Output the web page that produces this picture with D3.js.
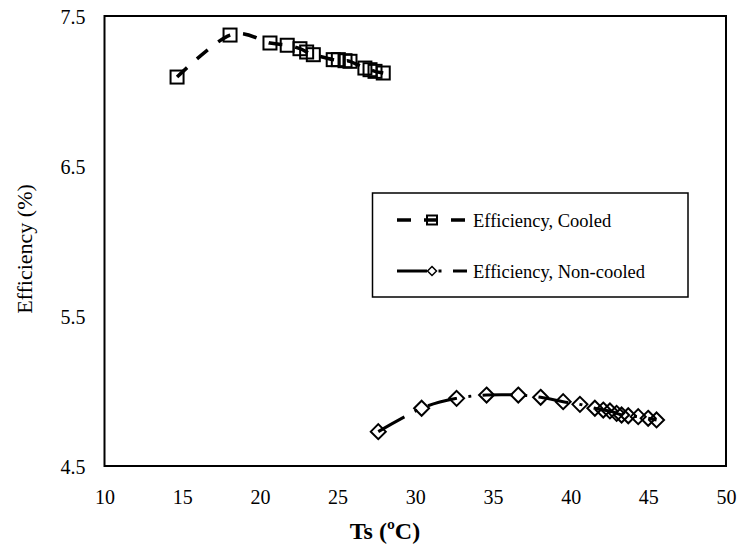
<!DOCTYPE html>
<html>
<head>
<meta charset="utf-8">
<script src="https://cdn.jsdelivr.net/npm/d3@7"></script>
<style>
  html, body { margin: 0; padding: 0; background: #fff; }
  svg { display: block; }
</style>
</head>
<body>
<svg id="chart" width="741" height="551"></svg>
<script>
// ---- data ----
const cooledT = [14.67, 18.08, 20.65, 21.76, 22.58, 23.01, 23.44, 24.72, 25.05, 25.48, 25.80, 26.76, 27.09, 27.41, 27.94];
const cooledE = [7.093, 7.373, 7.320, 7.305, 7.282, 7.260, 7.242, 7.209, 7.209, 7.202, 7.198, 7.153, 7.142, 7.131, 7.120];
const nonT = [27.62, 30.41, 32.66, 34.59, 36.63, 38.07, 39.52, 40.60, 41.56, 42.10, 42.53, 42.96, 43.28, 43.71, 44.35, 44.99, 45.53];
const nonE = [4.729, 4.885, 4.951, 4.973, 4.973, 4.958, 4.929, 4.911, 4.885, 4.873, 4.867, 4.851, 4.840, 4.835, 4.829, 4.818, 4.807];
const xTicks = [10, 15, 20, 25, 30, 35, 40, 45, 50];
const yTicks = [4.5, 5.5, 6.5, 7.5];
const seriesNames = ["Efficiency, Cooled", "Efficiency, Non-cooled"];
const xTitle = "Ts (ºC)";
const yTitle = "Efficiency (%)";

// ---- layout ----
const FONT = "'Liberation Serif', 'Times New Roman', Times, 'DejaVu Serif', 'Noto Serif', serif";
const svg = d3.select("#chart").style("font-family", FONT);
const L = 104.5, R = 726, T = 16, B = 466;
const x = d3.scaleLinear().domain([10, 50]).range([L, R]);
const y = d3.scaleLinear().domain([4.5, 7.5]).range([B, T]);

const cooled = cooledT.map((t, i) => ({x: t, y: cooledE[i]}));
const non = nonT.map((t, i) => ({x: t, y: nonE[i]}));

const line = d3.line().x(d => x(d.x)).y(d => y(d.y)).curve(d3.curveCatmullRom.alpha(0));

// plot frame
svg.append("rect").attr("x", L).attr("y", T).attr("width", R - L).attr("height", B - T)
  .attr("fill", "none").attr("stroke", "#000").attr("stroke-width", 2);

// axes (labels only)
const xAxis = svg.append("g").attr("transform", `translate(0,${B})`)
  .call(d3.axisBottom(x).tickValues(xTicks).tickSize(0).tickPadding(0).tickFormat(d3.format("d")));
xAxis.attr("font-family", null).attr("font-size", null).style("font-size", "20px");
xAxis.select(".domain").remove();
xAxis.selectAll("text").attr("dy", null).attr("y", 38).attr("fill", "#000");

const yAxis = svg.append("g").attr("transform", `translate(${L},0)`)
  .call(d3.axisLeft(y).tickValues(yTicks).tickSize(0).tickPadding(19).tickFormat(d3.format(".1f")));
yAxis.attr("font-family", null).attr("font-size", null).style("font-size", "20px");
yAxis.select(".domain").remove();
yAxis.selectAll("text").attr("dy", "0.35em").attr("fill", "#000");

// titles
svg.append("text").attr("x", 385).attr("y", 539).attr("text-anchor", "middle")
  .style("font-size", "24px").style("font-weight", "bold").text(xTitle);
svg.append("text").attr("transform", "translate(32,249) rotate(-90)").attr("text-anchor", "middle")
  .style("font-size", "22px").text(yTitle);

// series lines
svg.append("path").datum(cooled).attr("d", line).attr("fill", "none")
  .attr("stroke", "#000").attr("stroke-width", 3.5).attr("stroke-dasharray", "14,13");
svg.append("path").datum(non).attr("d", line).attr("fill", "none")
  .attr("stroke", "#000").attr("stroke-width", 3).attr("stroke-dasharray", "30,11.5,3,11.5");

// markers
const sq = 13;
svg.append("g").selectAll("rect").data(cooled).join("rect")
  .attr("x", d => x(d.x) - sq / 2).attr("y", d => y(d.y) - sq / 2)
  .attr("width", sq).attr("height", sq)
  .attr("fill", "none").attr("stroke", "#000").attr("stroke-width", 2);
const dm = 7.5;
svg.append("g").selectAll("path").data(non).join("path")
  .attr("d", d => { const cx = x(d.x), cy = y(d.y);
    return `M${cx},${cy - dm}L${cx + dm},${cy}L${cx},${cy + dm}L${cx - dm},${cy}Z`; })
  .attr("fill", "none").attr("stroke", "#000").attr("stroke-width", 2);

// legend
const lg = svg.append("g");
lg.append("rect").attr("x", 372.5).attr("y", 193).attr("width", 315.5).attr("height", 104)
  .attr("fill", "#fff").attr("stroke", "#000").attr("stroke-width", 1.5);
const ly1 = 220, ly2 = 271, lx0 = 397, lx1 = 467, lm = 432;
lg.append("line").attr("x1", lx0).attr("x2", lx1).attr("y1", ly1).attr("y2", ly1)
  .attr("stroke", "#000").attr("stroke-width", 3.5).attr("stroke-dasharray", "14,13");
lg.append("rect").attr("x", lm - 5).attr("y", ly1 - 4.5).attr("width", 10).attr("height", 9)
  .attr("fill", "none").attr("stroke", "#000").attr("stroke-width", 2);
lg.append("text").attr("x", 473).attr("y", ly1 + 7).style("font-size", "18.5px").text(seriesNames[0]);
lg.append("line").attr("x1", lx0).attr("x2", lx1).attr("y1", ly2).attr("y2", ly2)
  .attr("stroke", "#000").attr("stroke-width", 3).attr("stroke-dasharray", "30,11.5,3,11.5");
lg.append("path").attr("d", `M${lm},${ly2 - 4.5}L${lm + 4.5},${ly2}L${lm},${ly2 + 4.5}L${lm - 4.5},${ly2}Z`)
  .attr("fill", "#fff").attr("stroke", "#000").attr("stroke-width", 1.5);
lg.append("text").attr("x", 473).attr("y", ly2 + 7).style("font-size", "18.5px").text(seriesNames[1]);
</script>
</body>
</html>
